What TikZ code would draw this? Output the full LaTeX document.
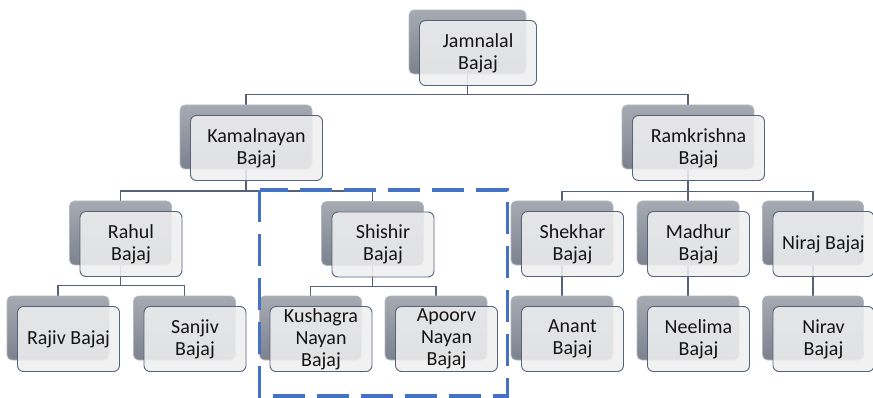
\documentclass[tikz,border=0pt]{standalone}
\usepackage{fontspec}
\setmainfont{Carlito}
\usetikzlibrary{calc}
\pgfdeclarelayer{links}
\pgfsetlayers{links,main}

\definecolor{backtop}{HTML}{A6AAB2}
\definecolor{backbot}{HTML}{7C828E}
\definecolor{backline}{HTML}{B4B8BF}
\definecolor{frontfill}{HTML}{EFEFF0}
\definecolor{frontline}{HTML}{56637A}
\definecolor{linkcol}{HTML}{56627A}
\definecolor{groupblue}{HTML}{4472C4}
\definecolor{txt}{HTML}{141414}

\tikzset{
  backbox/.style={rectangle, rounded corners=5pt, top color=backtop,
    bottom color=backbot, draw=backline, line width=0.8pt,
    minimum height=64pt, inner sep=0pt},
  frontbox/.style={rectangle, rounded corners=6pt, fill=frontfill,
    fill opacity=0.88, text opacity=1, draw=frontline, line width=0.9pt,
    minimum height=65pt, inner sep=0pt, align=center, text=txt,
    font=\fontsize{20}{22}\selectfont},
  link/.style={draw=linkcol, line width=1.6pt},
  groupbox/.style={draw=groupblue, line width=3.5pt, dash pattern=on 32pt off 12pt}
}

% one family member: shaded back card plus the labelled front card
\newcommand\famnode[5]{%
  \node[backbox, minimum width=#4pt] (#1-b) at (#2,#3) {};
  \node[frontbox, minimum width=#4pt] (#1) at (#2+10.5,#3+11) {#5};
}

\begin{document}
\begin{tikzpicture}[x=1pt,y=-1pt]
\useasboundingbox (0,0) rectangle (873,398);

% generation 1
\famnode{jam}{467.5}{42}{117}{Jamnalal\\Bajaj}
% generation 2
\famnode{kam}{246}{137}{132}{Kamalnayan\\Bajaj}
\famnode{ram}{688}{137}{132}{Ramkrishna\\Bajaj}
% generation 3
\famnode{rah}{120.5}{233}{102}{Rahul\\Bajaj}
\famnode{shi}{372.5}{233.5}{102}{Shishir\\Bajaj}
\famnode{she}{562}{233}{102}{Shekhar\\Bajaj}
\famnode{mad}{688}{233}{102}{Madhur\\Bajaj}
\famnode{nir}{813}{233}{101}{Niraj Bajaj}
% generation 4
\famnode{raj}{58}{328}{102}{Rajiv Bajaj}
\famnode{san}{184.5}{328}{102}{Sanjiv\\Bajaj}
\famnode{kus}{310.5}{328}{102}{Kushagra\\Nayan\\Bajaj}
\famnode{apo}{436}{328}{102}{Apoorv\\Nayan\\Bajaj}
\famnode{ana}{562}{328}{102}{Anant\\Bajaj}
\famnode{nee}{688}{328}{102}{Neelima\\Bajaj}
\famnode{nrv}{813}{328}{101}{Nirav\\Bajaj}

% parent-to-child links, kept under the cards
\begin{pgfonlayer}{links}
  \draw[link] (jam-b.south) -- ++(0,20) -| (kam-b.north);
  \draw[link] (jam-b.south) -- ++(0,20) -| (ram-b.north);
  \draw[link] (kam-b.south) -- ++(0,21.5) -| (rah-b.north);
  \draw[link] (kam-b.south) -- ++(0,21.5) -| (shi-b.north);
  \draw[link] (ram-b.south) -- ++(0,22) -| (she-b.north);
  \draw[link] (ram-b.south) -- ++(0,22) -| (mad-b.north);
  \draw[link] (ram-b.south) -- ++(0,22) -| (nir-b.north);
  \draw[link] (rah-b.south) -- ++(0,20) -| (raj-b.north);
  \draw[link] (rah-b.south) -- ++(0,20) -| (san-b.north);
  \draw[link] (shi-b.south) -- ++(0,20.5) -| (kus-b.north);
  \draw[link] (shi-b.south) -- ++(0,20.5) -| (apo-b.north);
  \draw[link] (she-b.south) -- (ana-b.north);
  \draw[link] (mad-b.south) -- (nee-b.north);
  \draw[link] (nir-b.south) -- (nrv-b.north);
\end{pgfonlayer}

% dashed frame round Shishir's branch
\draw[groupbox] (259.5,190) rectangle (507.5,396.2);
\end{tikzpicture}
\end{document}
